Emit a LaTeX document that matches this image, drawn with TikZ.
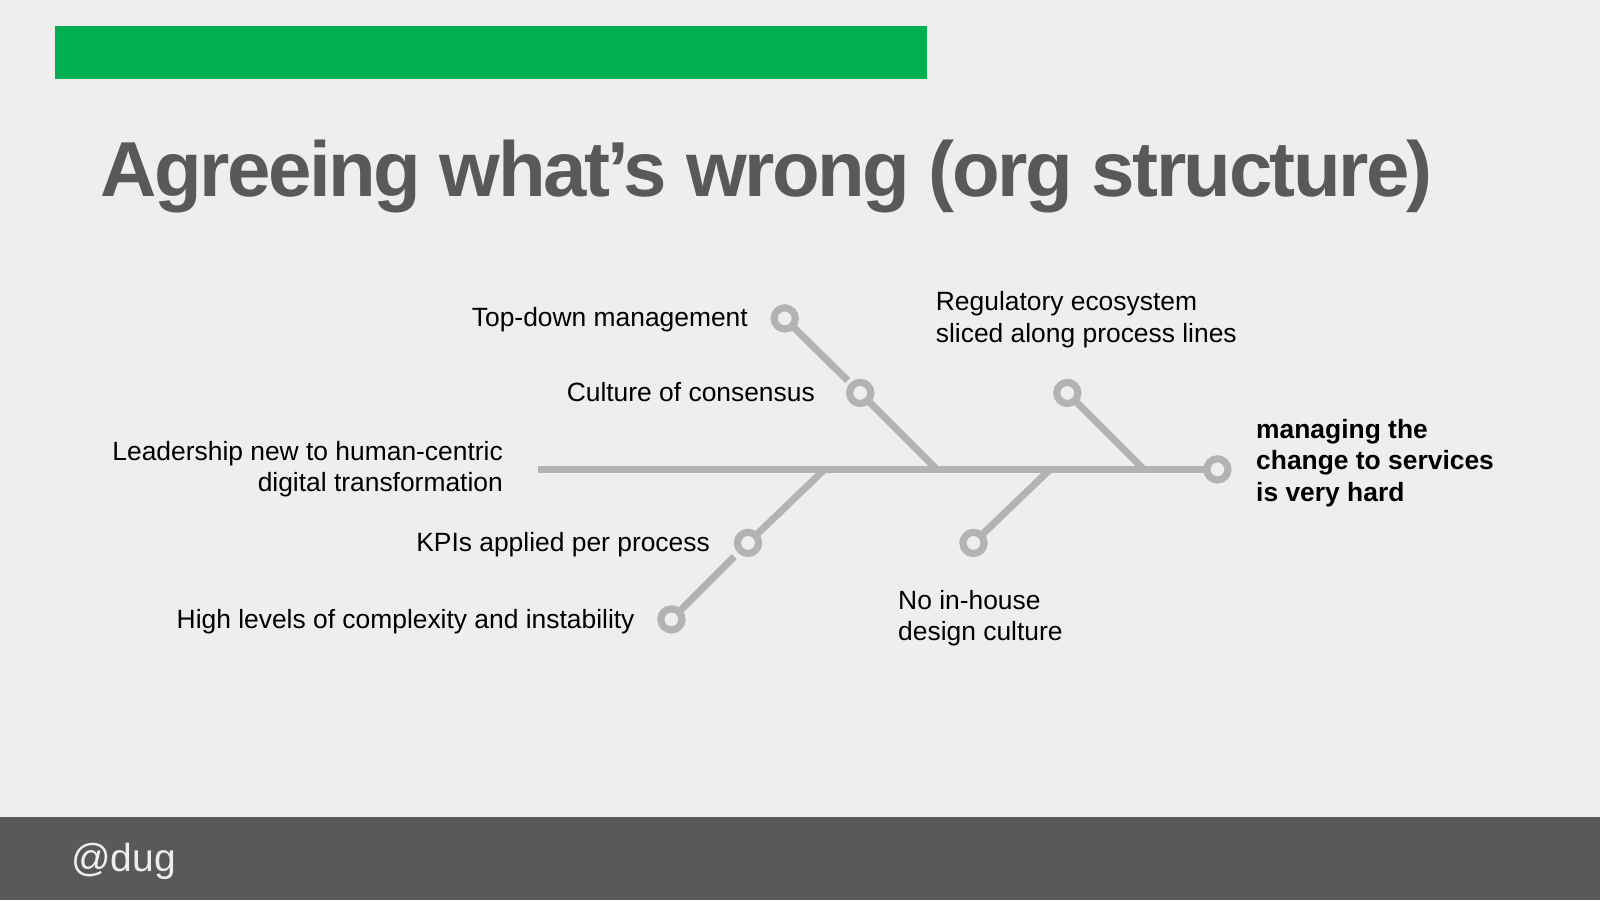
\documentclass[tikz,border=0pt]{standalone}
\usepackage{fontspec}
\setmainfont{Liberation Sans}
\newfontfamily\titlefont[LetterSpace=-3.3]{Liberation Sans}
\usetikzlibrary{calc}

\definecolor{slidebg}{HTML}{EEEEEE}
\definecolor{barGreen}{HTML}{00B050}
\definecolor{titleGray}{HTML}{595959}
\definecolor{footGray}{HTML}{595959}
\definecolor{boneGray}{HTML}{B3B3B3}
\definecolor{footText}{HTML}{EEEEEE}

\tikzset{
  bone/.style={draw=boneGray, line width=7pt},
  knob/.style={circle, draw=boneGray, line width=7pt, fill=slidebg,
               minimum size=21pt, inner sep=0pt, outer sep=0pt},
  cause/.style={inner sep=0pt, text=black,
                font=\fontsize{26.4}{31.6}\selectfont},
}

\begin{document}
\begin{tikzpicture}[x=1pt, y=-1pt]
  % slide canvas
  \fill[slidebg] (0,0) rectangle (1600,900);
  \useasboundingbox (0,0) rectangle (1600,900);

  % header bar
  \fill[barGreen] (55,25.5) rectangle (927,78.6);

  % title
  \node[anchor=base west, inner sep=0pt, text=titleGray,
        font=\titlefont\bfseries\fontsize{78}{90}\selectfont] (title)
        at (100.7,196) {Agreeing what’s wrong (org structure)};

  % footer band
  \fill[footGray] (0,816.5) rectangle (1600,900);
  \node[anchor=base west, inner sep=0pt, text=footText,
        font=\fontsize{39}{46}\selectfont] (handle) at (71,871.7) {@dug};

  % fishbone: spine and head
  \coordinate (tail) at (537.8,469.4);
  \node[knob] (head) at (1217.4,469.4) {};

  % rib junctions on the spine
  \coordinate (jkpi)  at (824.5,469.4);
  \coordinate (jcult) at (936.7,469.4);
  \coordinate (jhouse) at (1050.0,469.4);
  \coordinate (jreg)  at (1143.9,469.4);

  % rib ends
  \node[knob] (top)   at (784.7,318.4) {};
  \node[knob] (cult)  at (860.2,392.9) {};
  \node[knob] (reg)   at (1067.3,392.9) {};
  \node[knob] (kpi)   at (748.0,542.9) {};
  \node[knob] (high)  at (671.4,619.4) {};
  \node[knob] (house) at (973.5,542.9) {};

  % bones
  \draw[bone] (tail) -- (head);
  \draw[bone] (cult) -- (jcult);
  \draw[bone] (reg) -- (jreg);
  \draw[bone] (kpi) -- (jkpi);
  \draw[bone] (house) -- (jhouse);
  \draw[bone, shorten >=7pt] (top) -- (cult);
  \draw[bone, shorten <=9pt] (kpi) -- (high);

  % redraw knobs over the bones
  \foreach \k in {head,top,cult,reg,kpi,high,house}{
    \node[knob] at (\k.center) {};
  }

  % labels (multi-line nodes are placed by the baseline of their last line)
  \node[cause, anchor=base east] (ltop) at (748,326.7) {Top-down management};
  \node[cause, anchor=base east] (lcult) at (815,401) {Culture of consensus};
  \node[cause, anchor=base east, align=right] (llead) at (503,491.6)
        {Leadership new to human-centric\\digital transformation};
  \node[cause, anchor=base east] (lkpi) at (710,551.7) {KPIs applied per process};
  \node[cause, anchor=base east] (lhigh) at (634.7,628.3) {High levels of complexity and instability};
  \node[cause, anchor=base west, align=left] (lreg) at (935.7,342.3)
        {Regulatory ecosystem\\sliced along process lines};
  \node[cause, anchor=base west, align=left] (lhouse) at (898,640.9)
        {No in-house\\design culture};
  \node[cause, anchor=base west, align=left, font=\bfseries\fontsize{26.4}{31.6}\selectfont] (lhead) at (1256,501.5)
        {managing the\\change to services\\is very hard};
\end{tikzpicture}
\end{document}
